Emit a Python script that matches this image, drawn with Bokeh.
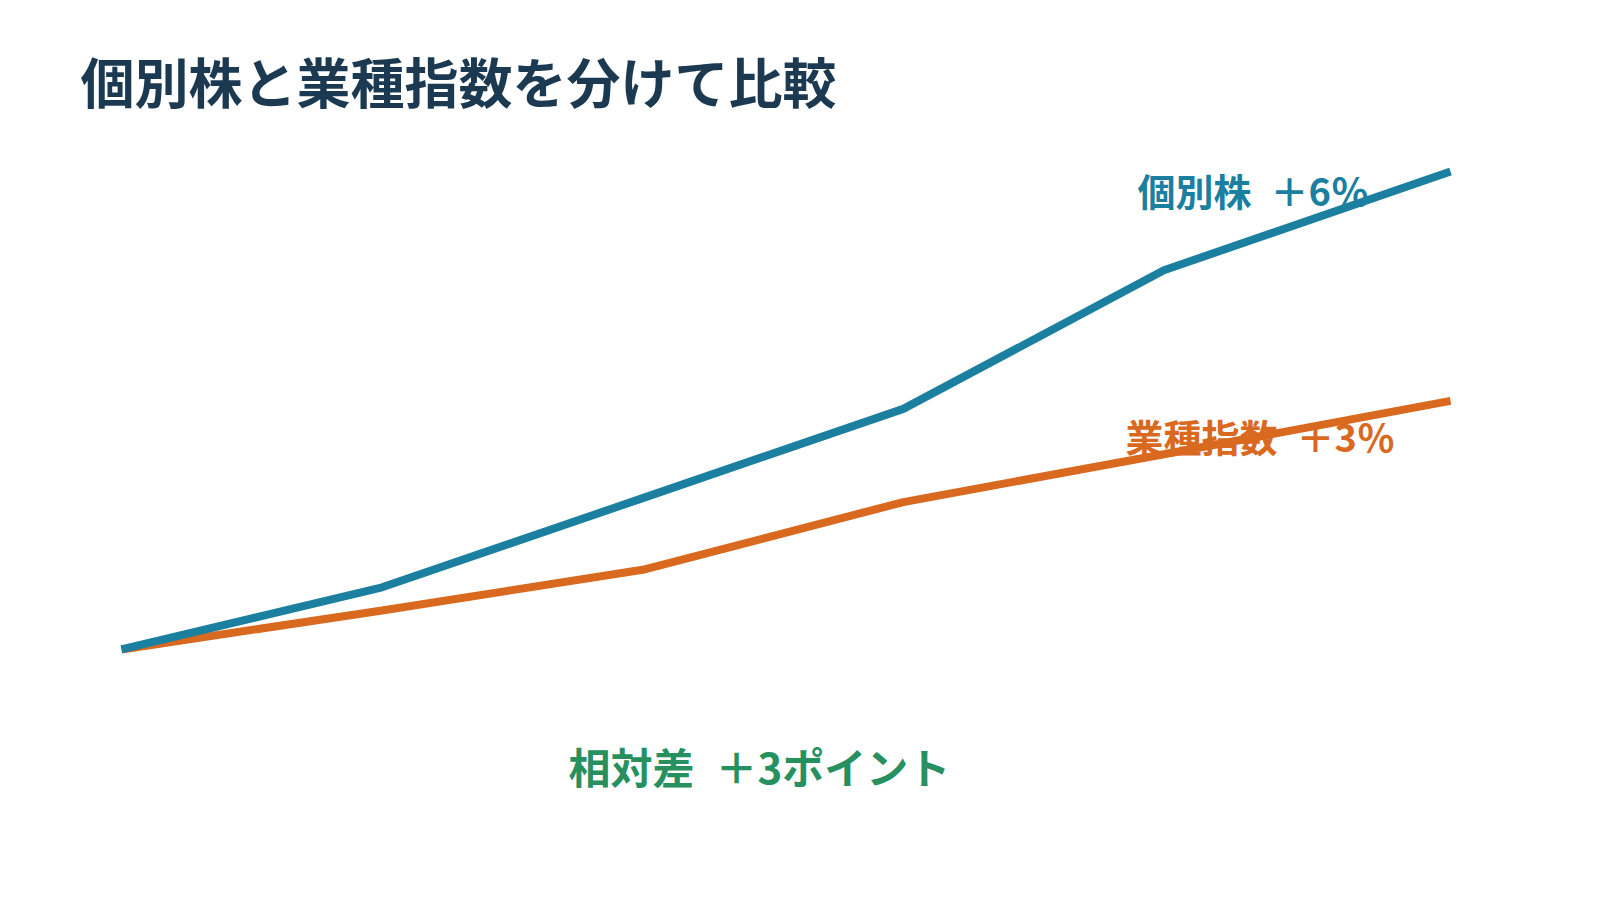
from bokeh.plotting import figure
from bokeh.models import Label, Range1d
from bokeh.embed import file_html
from bokeh.resources import INLINE

# periods (last step a little longer) and cumulative change in %
periods = [0, 1, 2, 3, 4, 5.1]
stock = [0, 0.78, 1.9, 3.02, 4.76, 6.0]
sector = [0, 0.49, 1.0, 1.85, 2.45, 3.12]

title_text = "個別株と業種指数を分けて比較"
stock_label = "個別株\u2002＋6％"
sector_label = "業種指数\u2002＋3％"
diff_label = "相対差\u2002＋3ポイント"

BLUE = "#1b7fa0"
ORANGE = "#d9691f"
GREEN = "#27905f"
NAVY = "#1b3a52"
FONT = "Noto Sans CJK JP"

W, H = 1584, 884

p = figure(width=W, height=H, output_backend="svg", toolbar_location=None,
           x_range=Range1d(-0.4643, 5.614), y_range=Range1d(-2.95, 8.146),
           min_border=0, x_axis_location=None, y_axis_location=None)
p.grid.visible = False
p.outline_line_color = None
p.background_fill_color = "white"
p.border_fill_color = "white"

p.line(periods, sector, line_color=ORANGE, line_width=8)
p.line(periods, stock, line_color=BLUE, line_width=8)

p.add_layout(Label(x=80, y=804, x_units="screen", y_units="screen", text=title_text,
                   text_font=FONT, text_font_size="54px", text_font_style="bold",
                   text_color=NAVY, text_baseline="middle"))
p.add_layout(Label(x=1137, y=695, x_units="screen", y_units="screen", text=stock_label,
                   text_font=FONT, text_font_size="38px", text_font_style="bold",
                   text_color=BLUE, text_baseline="middle"))
p.add_layout(Label(x=1125, y=449, x_units="screen", y_units="screen", text=sector_label,
                   text_font=FONT, text_font_size="38px", text_font_style="bold",
                   text_color=ORANGE, text_baseline="middle"))
p.add_layout(Label(x=568, y=119, x_units="screen", y_units="screen", text=diff_label,
                   text_font=FONT, text_font_size="42px", text_font_style="bold",
                   text_color=GREEN, text_baseline="middle"))

open("out.html", "w").write(file_html(p, INLINE))
